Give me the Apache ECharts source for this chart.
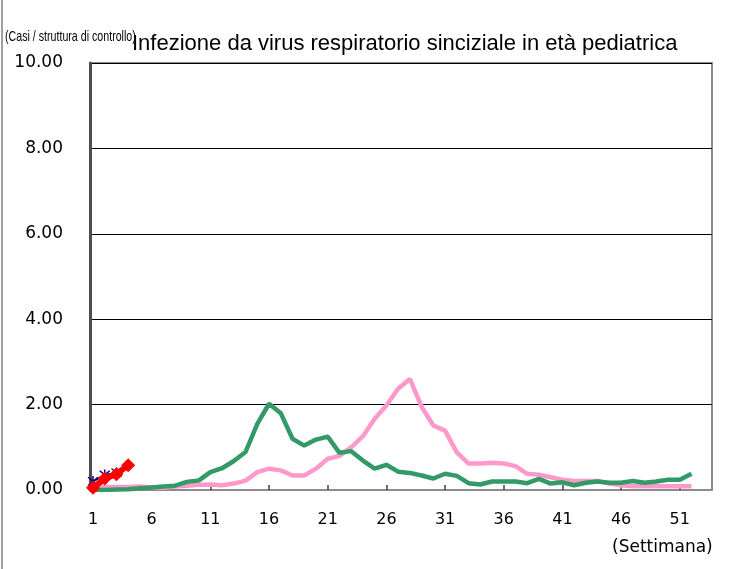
<!DOCTYPE html>
<html>
<head>
<meta charset="utf-8">
<script src="https://cdn.jsdelivr.net/npm/echarts@6/dist/echarts.min.js"></script>
<style>html,body{margin:0;padding:0;background:#fff;}#c{width:734px;height:569px;}</style>
</head>
<body>
<div id="c"></div>
<script>
// Week numbers (1..52)
const weeks = [1,2,3,4,5,6,7,8,9,10,11,12,13,14,15,16,17,18,19,20,21,22,23,24,25,26,27,28,29,30,31,32,33,34,35,36,37,38,39,40,41,42,43,44,45,46,47,48,49,50,51,52];
// Previous season (green)
const greenValues = [0.00,0.00,0.01,0.02,0.04,0.06,0.08,0.10,0.19,0.22,0.42,0.51,0.68,0.89,1.55,2.02,1.80,1.20,1.04,1.18,1.25,0.87,0.91,0.69,0.50,0.59,0.43,0.40,0.34,0.27,0.38,0.33,0.16,0.13,0.20,0.20,0.20,0.16,0.26,0.15,0.18,0.11,0.17,0.20,0.17,0.17,0.21,0.17,0.20,0.24,0.24,0.38];
// Earlier season (pink)
const pinkValues = [0.06,0.07,0.07,0.07,0.08,0.06,0.05,0.08,0.10,0.12,0.13,0.11,0.15,0.22,0.42,0.50,0.46,0.34,0.34,0.50,0.73,0.80,1.00,1.26,1.67,1.98,2.37,2.60,1.95,1.51,1.39,0.88,0.62,0.62,0.64,0.62,0.56,0.38,0.36,0.30,0.24,0.21,0.21,0.21,0.15,0.11,0.09,0.09,0.09,0.09,0.09,0.09];
// Blue asterisk series (weeks 1-3)
const blueWeeks = [1,2,3];
const blueValues = [0.20,0.35,0.40];
// Current season red diamonds (weeks 1-4)
const redWeeks = [1,2,3,4];
const redValues = [0.05,0.27,0.37,0.58];
// Axis tick labels
const xTickLabels = ['1','6','11','16','21','26','31','36','41','46','51'];

const pair = (xs, ys) => xs.map((x, i) => [x, ys[i]]);
const asterisk = 'path://M4.4,0h1.2v10h-1.2z M0.7,1.5l0.85,-0.85l7.75,7.75l-0.85,0.85z M9.3,1.5l-0.85,-0.85l-7.75,7.75l0.85,0.85z';

const chart = echarts.init(document.getElementById('c'), null, {renderer: 'canvas'});
chart.setOption({
  backgroundColor: '#ffffff',
  animation: false,
  grid: {left: 90, right: 22, top: 63, bottom: 79, show: true, borderColor: '#8c8c8c', borderWidth: 2, backgroundColor: 'transparent'},
  graphic: [
    {type: 'line', shape: {x1: 2, y1: 0, x2: 2, y2: 569}, style: {stroke: '#7f7f7f', lineWidth: 1.5}},
    {type: 'text', x: 5, y: 29, scaleX: 0.71, style: {text: '(Casi / struttura di controllo)', font: '15px "Liberation Sans", Arial, sans-serif', fill: '#000'}},
    {type: 'text', x: 132, y: 33, style: {text: 'Infezione da virus respiratorio sinciziale in età pediatrica', font: '22px "Liberation Sans", Arial, sans-serif', fill: '#000'}},
    {type: 'text', x: 612, y: 539, style: {text: '(Settimana)', font: '17px "DejaVu Sans", sans-serif', fill: '#000'}}
  ],
  xAxis: {
    type: 'value',
    min: 0.745,
    max: 53.745,
    splitLine: {show: false},
    axisLine: {show: true, lineStyle: {color: '#8c8c8c', width: 2}},
    axisTick: {show: true, inside: true, length: 5, customValues: xTickLabels.map(Number), lineStyle: {color: '#404040', width: 1.5}},
    axisLabel: {show: true, customValues: xTickLabels.map(Number), margin: 22, color: '#000', fontSize: 16, fontFamily: '"DejaVu Sans", sans-serif', formatter: v => String(Math.round(v))}
  },
  yAxis: {
    type: 'value',
    min: 0,
    max: 10,
    interval: 2,
    axisLine: {show: true, lineStyle: {color: '#4d4d4d', width: 3}},
    axisTick: {show: false},
    splitLine: {show: true, lineStyle: {color: '#000', width: 1}},
    axisLabel: {margin: 27, color: '#000', fontSize: 17, padding: [4, 0, 0, 0], fontFamily: '"DejaVu Sans", sans-serif', formatter: v => v.toFixed(2)}
  },
  series: [
    {type: 'line', name: 'pink', data: pair(weeks, pinkValues), symbol: 'none', lineStyle: {color: '#ff99cc', width: 4.5}, z: 2},
    {type: 'line', name: 'green', data: pair(weeks, greenValues), symbol: 'none', lineStyle: {color: '#339966', width: 4.5}, z: 3},
    {type: 'line', name: 'blue', data: pair(blueWeeks, blueValues), symbol: asterisk, symbolSize: 11, itemStyle: {color: '#000080'}, lineStyle: {color: '#000080', width: 2}, z: 4},
    {type: 'line', name: 'red', data: pair(redWeeks, redValues), symbol: 'diamond', symbolSize: 14, itemStyle: {color: '#ff0000'}, lineStyle: {color: '#ff0000', width: 6}, z: 5}
  ]
});
</script>
</body>
</html>
